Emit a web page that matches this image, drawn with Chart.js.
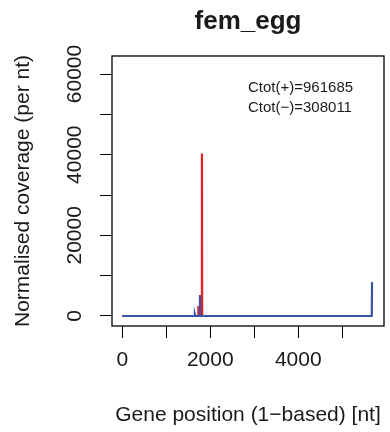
<!DOCTYPE html>
<html>
<head>
<meta charset="utf-8">
<script src="https://cdn.jsdelivr.net/npm/chart.js@4/dist/chart.umd.min.js"></script>
<style>
  body { margin: 0; background: #fff; }
  canvas { display: block; }
</style>
</head>
<body>
<canvas id="coverageChart" width="390" height="432"></canvas>
<script>
const chartTitle = "fem_egg";
const xAxisTitle = "Gene position (1\u2212based) [nt]";
const yAxisTitle = "Normalised coverage (per nt)";

// minus strand (blue)
const minusPos = [1, 1645, 1652, 1659, 1760, 1766, 1772, 1840, 1845, 1850, 5670, 5676];
const minusCov = [0, 0, 300, 0, 0, 5200, 0, 0, 150, 0, 0, 8400];

// plus strand (red)
const plusPos = [1, 1722, 1727, 1732, 1806, 1811, 1816, 5676];
const plusCov = [0, 0, 2500, 0, 0, 40300, 0, 0];

const ctotPlus = 961685;
const ctotMinus = 308011;

const xLimits = [-233, 5948];
const yLimits = [-2480, 64470];
const xTicks = [0, 1000, 2000, 3000, 4000, 5000];
const yTicks = [0, 10000, 20000, 30000, 40000, 50000, 60000];
const xLabelEvery = 2000;
const yLabelEvery = 20000;

const fontFamily = "'Liberation Sans', Arial, Helvetica, sans-serif";
const textColor = "#1a1a1a";

function toPoints(xs, ys) {
  return xs.map((x, i) => ({ x: x, y: ys[i] }));
}

// R style frame, rotated y labels and the Ctot note
const rStylePlugin = {
  id: "rStyle",
  afterDraw(chart) {
    const ctx = chart.ctx;
    const area = chart.chartArea;
    ctx.save();
    ctx.strokeStyle = "#000";
    ctx.lineWidth = 1.3;
    ctx.strokeRect(area.left, area.top, area.right - area.left, area.bottom - area.top);

    const yScale = chart.scales.y;
    ctx.fillStyle = textColor;
    ctx.font = "21px " + fontFamily;
    ctx.textAlign = "center";
    ctx.textBaseline = "middle";
    yScale.ticks.forEach((tick) => {
      if (tick.value % yLabelEvery !== 0) return;
      const py = yScale.getPixelForValue(tick.value);
      ctx.save();
      ctx.translate(75, py);
      ctx.rotate(-Math.PI / 2);
      ctx.fillText(String(tick.value), 0, 0);
      ctx.restore();
    });

    ctx.font = "15px " + fontFamily;
    ctx.textAlign = "left";
    ctx.fillText("Ctot(+)=" + ctotPlus, 248, 88);
    ctx.fillText("Ctot(\u2212)=" + ctotMinus, 248, 108);
    ctx.restore();
  },
};

function createGraph() {
  const ctx = document.getElementById("coverageChart").getContext("2d");
  return new Chart(ctx, {
    type: "line",
    data: {
      datasets: [
        {
          label: "minus",
          data: toPoints(minusPos, minusCov),
          borderColor: "#3653a4",
          borderWidth: 2.2,
          pointRadius: 0,
          tension: 0,
        },
        {
          label: "plus",
          data: toPoints(plusPos, plusCov),
          borderColor: "#ec1c24",
          borderWidth: 2.2,
          pointRadius: 0,
          tension: 0,
        },
      ],
    },
    options: {
      responsive: false,
      animation: false,
      devicePixelRatio: 1,
      layout: { padding: { left: 0, right: 6, top: 0, bottom: 0 } },
      plugins: {
        legend: { display: false },
        tooltip: { enabled: false },
        title: {
          display: true,
          text: chartTitle,
          fullSize: false,
          color: textColor,
          font: { family: fontFamily, size: 26, weight: "bold" },
          padding: { top: 6.4, bottom: 18.4 },
        },
      },
      scales: {
        x: {
          type: "linear",
          min: xLimits[0],
          max: xLimits[1],
          afterBuildTicks: (scale) => {
            scale.ticks = xTicks.map((v) => ({ value: v }));
          },
          afterFit: (scale) => { scale.height = 106; },
          border: { display: false },
          grid: {
            drawOnChartArea: false,
            drawTicks: true,
            tickLength: 12,
            color: "#000",
            lineWidth: 1,
          },
          ticks: {
            autoSkip: false,
            maxRotation: 0,
            padding: 10,
            color: textColor,
            font: { family: fontFamily, size: 21 },
            callback: (v) => (v % xLabelEvery === 0 ? String(v) : ""),
          },
          title: {
            display: true,
            text: xAxisTitle,
            color: textColor,
            font: { family: fontFamily, size: 21 },
            padding: { top: 0, bottom: 4 },
          },
        },
        y: {
          type: "linear",
          min: yLimits[0],
          max: yLimits[1],
          afterBuildTicks: (scale) => {
            scale.ticks = yTicks.map((v) => ({ value: v }));
          },
          afterFit: (scale) => { scale.width = 112; },
          border: { display: false },
          grid: {
            drawOnChartArea: false,
            drawTicks: true,
            tickLength: 12,
            color: "#000",
            lineWidth: 1,
          },
          ticks: {
            display: false,
          },
          title: {
            display: true,
            text: yAxisTitle,
            color: textColor,
            font: { family: fontFamily, size: 21 },
            padding: { top: 11, bottom: 0 },
          },
        },
      },
    },
    plugins: [rStylePlugin],
  });
}

createGraph();
</script>
</body>
</html>
